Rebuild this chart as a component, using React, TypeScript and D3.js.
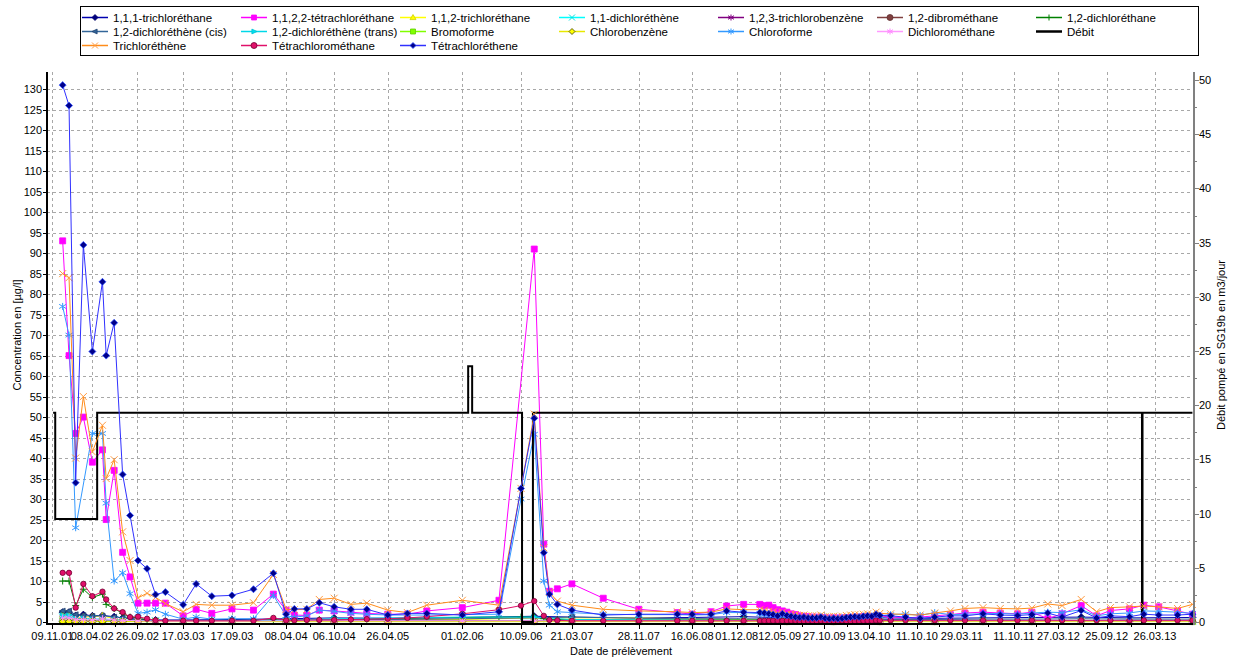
import React, { useEffect, useRef } from 'react';
import * as d3 from 'd3';

// dates de prélèvement (série complète)
const sampleDates = [
  '2001-12-18', '2002-01-11', '2002-02-05', '2002-03-06', '2002-04-09', '2002-05-17', '2002-05-31',
  '2002-06-30', '2002-08-01', '2002-08-29', '2002-09-28', '2002-11-01', '2002-12-03', '2003-01-09',
  '2003-03-17', '2003-05-05', '2003-07-03', '2003-09-17', '2003-12-07', '2004-02-20', '2004-04-08',
  '2004-05-09', '2004-06-25', '2004-08-11', '2004-10-06', '2004-12-08', '2005-02-06', '2005-04-26',
  '2005-07-09', '2005-09-20', '2006-02-01', '2006-06-19', '2006-09-10', '2006-10-30', '2006-12-05',
  '2006-12-26', '2007-01-25', '2007-03-21', '2007-07-17', '2007-11-28', '2008-04-21', '2008-06-16',
  '2008-08-26', '2008-10-24', '2008-12-27', '2009-02-26', '2009-03-15', '2009-04-01', '2009-04-17',
  '2009-05-04', '2009-05-22', '2009-06-08', '2009-06-24', '2009-07-10', '2009-07-26', '2009-08-11',
  '2009-08-27', '2009-09-12', '2009-09-28', '2009-10-14', '2009-10-30', '2009-11-15', '2009-12-01',
  '2009-12-17', '2010-01-02', '2010-01-18', '2010-02-03', '2010-02-19', '2010-03-07', '2010-03-23',
  '2010-04-08', '2010-04-24', '2010-05-10', '2010-05-24', '2010-07-04', '2010-08-29', '2010-10-23',
  '2010-12-17', '2011-02-14', '2011-04-10', '2011-06-17', '2011-08-21', '2011-10-25', '2011-12-18',
  '2012-02-16', '2012-04-10', '2012-06-21', '2012-08-18', '2012-10-09', '2012-12-20', '2013-02-12',
  '2013-04-09', '2013-06-19', '2013-08-14',
];

// dates des composés mineurs
const sparseDates = [
  '2001-12-18', '2002-01-11', '2002-02-05', '2002-03-06', '2002-04-09', '2002-05-17', '2002-06-30',
  '2002-08-01', '2002-09-28', '2002-12-03', '2003-03-17', '2003-09-17', '2004-04-08', '2004-10-06',
  '2005-04-26', '2006-02-01', '2006-10-30', '2007-03-21', '2007-11-28', '2008-06-16', '2008-12-27',
  '2009-06-08', '2009-12-01', '2010-05-24', '2010-12-17', '2011-06-17', '2011-12-18', '2012-06-21',
  '2012-12-20', '2013-08-14',
];

const tetrachloroethene = [
  131, 126, 34, 92, 66, 83, 65, 73, 36, 26, 15, 13, 6.7, 7.3,
  4.2, 9.3, 6.3, 6.5, 8, 11.9, 1.9, 3.2, 3.2, 4.7, 3.7, 3.1, 3.1, 1.7, 2.1, 2.1, 1.7, 2.5,
  32.6, 49.7, 16.9, 6.8, 4.3, 2.9, 1.7, 1.9, 1.9, 1.9, 1.9, 2.7, 2.4, 2.3, 2.2, 2.0, 1.8, 1.5,
  2.0, 1.6, 1.4, 1.2, 1.1, 1.2, 1.0, 1.0, 1.0, 1.2, 0.9, 0.8, 0.9, 0.8, 0.9, 1.1, 1.2, 1.3,
  1.2, 1.4, 1.5, 1.4, 1.9, 1.6, 1.5, 1.2, 0.9, 1.2, 1.5, 1.5, 2.0, 1.7, 1.6, 1.8, 2.2, 1.2,
  2.8, 1.0, 1.5, 1.3, 1.9, 1.7, 1.7, 1.9,
];
const tetrachloroethane1122 = [
  93, 65, 46, 50, 39, 42, 25, 37, 17, 11, 4.6, 4.6, 4.6, 4.6,
  1.5, 3.1, 2.1, 3.2, 2.9, 6.8, 2.9, 1.7, 1.6, 2.9, 2.7, 2.4, 2.1, 1.9, 1.9, 2.7, 3.5, 5.3,
  null, 91, 19, 7.5, 8.1, 9.3, 5.8, 3.1, 2.3, 1.9, 2.5, 3.9, 4.3, 4.3, 4.0, 4.1, 3.5, 3.0,
  2.7, 2.4, 2.0, 1.8, 1.5, 1.4, 1.3, 1.2, 1.2, 1.1, 1.0, 1.0, 1.0, 1.0, 1.0, 1.1, 1.1, 1.2,
  1.2, 1.3, 1.3, 1.3, 1.5, 1.4, 1.3, 1.0, 1.2, 1.5, 1.8, 2.2, 2.4, 2.2, 2.0, 2.4, 0.8, 2.0,
  4.0, 1.5, 2.8, 3.2, 4.1, 3.7, 2.7, 1.9,
];
const trichloroethene = [
  85, 84, 40, 55, 41.5, 48, 35, 39.6, 22, 15, 5.9, 7, 6, 4.5,
  2.5, 4.3, 4.1, 4.1, 4.7, 11.6, 3.1, 3.0, 3.1, 5.5, 5.8, 4.3, 4.6, 2.9, 2.3, 4.1, 5.3, 4.1,
  32.6, 50.7, 18.1, 7.2, 5.1, 4.1, 3.1, 2.7, 2.5, 2.3, 2.4, 3.2, 3.0, 3.0, 2.8, 2.6, 2.5, 2.2,
  2.4, 2.0, 1.9, 1.8, 1.6, 1.7, 1.5, 1.5, 1.5, 1.7, 1.3, 1.3, 1.4, 1.3, 1.4, 1.6, 1.7, 1.8,
  1.7, 1.9, 2.0, 1.9, 2.4, 2.1, 2.0, 1.8, 1.7, 2.2, 2.7, 3.3, 3.5, 3.3, 3.2, 3.4, 4.4, 4.0,
  5.5, 2.5, 3.5, 3.7, 3.9, 3.7, 3.3, 4.3,
];
const chloroforme = [
  77, 70, 23, null, 46, 46, 29, 10, 12, 6.9, 2.1, 2.4, 3.0, 1.9,
  0.7, 1.2, 0.7, 0.8, 0.8, 6.5, 1.5, 1.2, 1.5, 2.9, 2.6, 2.1, 1.9, 1.7, 1.7, 1.7, 1.8, 1.9,
  30, 45.8, 10, 4.1, 2.5, 2.3, 1.9, 1.8, 1.8, 1.7, 1.8, 2.3, 2.3, 2.0, 1.9, 1.8, 1.6, 1.5,
  1.7, 1.5, 1.3, 1.2, 1.1, 1.1, 1.0, 1.0, 1.0, 1.1, 0.9, 0.9, 0.9, 0.9, 1.0, 1.0, 1.1, 1.2,
  1.1, 1.2, 1.3, 1.3, 1.6, 1.5, 1.8, 2.0, 1.6, 2.3, 1.8, 1.9, 2.0, 2.1, 1.9, 2.2, 2.4, 2.3,
  3.0, 1.5, 2.0, 2.2, 2.7, 2.6, 2.4, 2.1,
];
const tetrachloromethane = [
  12, 12, 3.5, 9.3, 6.3, 7.4, 5.5, 3.3, 2.4, 1.2, 1.3, 0.8, 0.4, 0.3,
  0.3, 0.3, 0.3, 0.3, 0.3, 1.0, 0.4, 0.4, 0.5, 0.5, 0.5, 0.6, 0.7, 0.8, 1.0, 1.3, 2.0, 3.0,
  4.0, 5.1, 1.5, 0.5, 0.4, 0.3, 0.3, 0.3, 0.3, 0.3, 0.3, 0.3, 0.3, 0.3, 0.3, 0.3, 0.3, 0.3,
  0.3, 0.3, 0.3, 0.3, 0.2, 0.2, 0.2, 0.2, 0.2, 0.3, 0.1, 0.1, 0.2, 0.2, 0.3, 0.2, 0.2, 0.2,
  0.2, 0.3, 0.3, 0.3, 0.4, 0.4, 0.4, 0.4, 0.4, 0.4, 0.4, 0.4, 0.4, 0.4, 0.4, 0.4, 0.4, 0.4,
  0.4, 0.4, 0.4, 0.4, 0.4, 0.4, 0.4, 0.4,
];
const dichloroethane12 = [
  10, 10, 4, 8, 6, 6.8, 4.3, 3.3, 2.1, 1.2, 1.0, 0.5, 0.3, 0.3,
  0.3, 0.3, 0.4, 0.4, 0.4, 0.5, 0.5, 0.5, 0.5, 0.6, 0.6, 0.6, 0.7, 0.8, 0.9, 1.0, 1.1, 1.2,
  1.2, 1.2, 0.8, 0.6, 0.6, 0.5, 0.5, 0.5, 0.5, 0.5, 0.5, 0.5, 0.5, 0.5, 0.5, 0.5, 0.4, 0.4,
  0.4, 0.4, 0.4, 0.4, 0.3, 0.3, 0.3, 0.3, 0.3, 0.3, 0.3, 0.3, 0.3, 0.3, 0.3, 0.3, 0.3, 0.3,
  0.3, 0.3, 0.3, 0.3, 0.3, 0.3, 0.3, 0.3, 0.3, 0.3, 0.3, 0.3, 0.3, 0.3, 0.3, 0.3, 0.3, 0.3,
  0.3, 0.3, 0.3, 0.3, 0.3, 0.3, 0.3, 0.3,
];

const trichloroethane111 = [2.4, 2.4, 1.6, 1.8, 1.5, 1.6, 1.3, 1.0, 0.7, 0.5, 0.5, 0.6, 0.8, 1.0, 0.9, 1.1, 1.4, 1.2, 1.0, 1.1, 1.3, 1.0, 0.8, 1.0, 0.9, 1.0, 1.1, 1.2, 1.0, 1.1];
const trichloroethane112 = [1.8, 1.8, 1.0, 1.3, 1.2, 1.5, 0.8, 0.4, 0.2, 0.2, 0.2, 0.2, 0.3, 0.4, 0.5, 0.6, 1.0, 1.0, 1.0, 0.8, 0.6, 0.5, 0.4, 0.4, 0.4, 0.3, 0.3, 0.3, 0.3, 0.3];
const dichloroethene11 = [1.2, 1.2, 0.7, 0.8, 0.8, 0.7, 0.6, 0.4, 0.3, 0.3, 0.2, 0.2, 0.3, 0.3, 0.3, 0.3, 0.4, 0.3, 0.3, 0.3, 0.3, 0.3, 0.3, 0.3, 0.3, 0.3, 0.3, 0.3, 0.3, 0.3];
const trichlorobenzene123 = [0.2, 0.2, 0.2, 0.2, 0.2, 0.2, 0.2, 0.2, 0.2, 0.2, 0.2, 0.2, 0.3, 0.3, 0.3, 0.3, 0.3, 0.2, 0.2, 0.2, 0.2, 0.2, 0.2, 0.2, 0.2, 0.2, 0.2, 0.2, 0.2, 0.2];
const dibromethane12 = [0.2, 0.2, 0.2, 0.2, 0.2, 0.2, 0.2, 0.2, 0.2, 0.2, 0.2, 0.3, 0.4, 0.5, 0.5, 0.4, 0.3, 0.2, 0.2, 0.2, 0.2, 0.2, 0.2, 0.2, 0.2, 0.2, 0.2, 0.2, 0.2, 0.2];
const dichloroetheneCis = [2.7, 2.7, 1.8, 1.6, 1.4, 1.5, 1.2, 1.0, 0.4, 0.3, 0.3, 0.3, 0.5, 0.6, 0.6, 0.8, 1.0, 1.2, 0.9, 0.8, 0.8, 0.7, 0.6, 0.6, 0.6, 0.7, 0.7, 0.8, 0.7, 0.7];
const dichloroetheneTrans = [1.6, 1.6, 0.8, 0.8, 0.6, 0.6, 0.5, 0.4, 0.3, 0.2, 0.2, 0.2, 0.4, 0.8, 1.0, 1.2, 1.2, 0.6, 0.5, 0.4, 0.4, 0.3, 0.3, 0.3, 0.3, 0.3, 0.3, 0.3, 0.3, 0.3];
const bromoforme = [0.1, 0.1, 0.1, 0.1, 0.1, 0.1, 0.1, 0.1, 0.1, 0.1, 0.1, 0.1, 0.1, 0.1, 0.1, 0.1, 0.1, 0.1, 0.1, 0.1, 0.1, 0.1, 0.1, 0.1, 0.1, 0.1, 0.1, 0.1, 0.1, 0.1];
const chlorobenzene = [0.1, 0.1, 0.1, 0.1, 0.1, 0.1, 0.1, 0.1, 0.1, 0.1, 0.1, 0.1, 0.1, 0.1, 0.1, 0.1, 0.1, 0.1, 0.1, 0.1, 0.1, 0.1, 0.1, 0.1, 0.1, 0.1, 0.1, 0.1, 0.1, 0.1];
const dichloromethane = [1.0, 1.0, 0.6, 0.6, 0.5, 0.8, 0.5, 0.4, 0.3, 0.2, 0.2, 0.2, 0.3, 0.3, 0.3, 0.3, 0.3, 0.3, 0.3, 0.3, 0.3, 0.3, 0.3, 0.3, 0.3, 0.3, 0.3, 0.3, 0.3, 0.3];

// débit pompé (m3/jour), en escalier
const debitDates = ['2001-11-12', '2001-11-20', '2002-04-27', '2006-02-23', '2006-03-10', '2006-09-14', '2006-10-25', '2013-02-05', '2013-02-07', '2013-08-14'];
const debitValues = [19.3, 9.5, 19.3, 23.6, 19.3, 0, 19.3, 0, 19.3, 19.3];

const xTickDates = [
  '2001-11-09', '2002-04-08', '2002-09-26', '2003-03-17', '2003-09-17', '2004-04-08', '2004-10-06',
  '2005-04-26', '2006-02-01', '2006-09-10', '2007-03-21', '2007-11-28', '2008-06-16', '2008-12-01',
  '2009-05-12', '2009-10-27', '2010-04-13', '2010-10-11', '2011-03-29', '2011-10-11', '2012-03-27',
  '2012-09-25', '2013-03-26',
];

const FONT = '"Liberation Sans", Arial, sans-serif';
const parse = d3.timeParse('%Y-%m-%d');

type Marker = 'diamond' | 'square' | 'triangle' | 'x' | 'circle' | 'plus' | 'triLeft' | 'triRight' | 'asterisk';

interface Series {
  name: string;
  dates: string[];
  values: (number | null)[] | null;
  line: string;
  fill: string;
  stroke: string;
  marker: Marker | null;
}

const series: Series[] = [
  { name: '1,1,1-trichloréthane', dates: sparseDates, values: trichloroethane111, line: '#0000b0', fill: '#000080', stroke: '#000060', marker: 'diamond' },
  { name: '1,1,2,2-tétrachloréthane', dates: sampleDates, values: tetrachloroethane1122, line: '#ff00ff', fill: '#ff00ff', stroke: '#ff00ff', marker: 'square' },
  { name: '1,1,2-trichloréthane', dates: sparseDates, values: trichloroethane112, line: '#ffff00', fill: '#ffff00', stroke: '#d0d000', marker: 'triangle' },
  { name: '1,1-dichloréthène', dates: sparseDates, values: dichloroethene11, line: '#00ffff', fill: 'none', stroke: '#00e0e0', marker: 'x' },
  { name: '1,2,3-trichlorobenzène', dates: sparseDates, values: trichlorobenzene123, line: '#800080', fill: 'none', stroke: '#800080', marker: 'asterisk' },
  { name: '1,2-dibrométhane', dates: sparseDates, values: dibromethane12, line: '#804040', fill: '#804040', stroke: '#603030', marker: 'circle' },
  { name: '1,2-dichloréthane', dates: sampleDates, values: dichloroethane12, line: '#008000', fill: 'none', stroke: '#008000', marker: 'plus' },
  { name: '1,2-dichloréthène (cis)', dates: sparseDates, values: dichloroetheneCis, line: '#336699', fill: '#336699', stroke: '#204070', marker: 'triLeft' },
  { name: '1,2-dichloréthène (trans)', dates: sparseDates, values: dichloroetheneTrans, line: '#00d8e8', fill: '#00e0f0', stroke: '#00c0d0', marker: 'triRight' },
  { name: 'Bromoforme', dates: sparseDates, values: bromoforme, line: '#80ff00', fill: '#80ff00', stroke: '#60d000', marker: 'square' },
  { name: 'Chlorobenzène', dates: sparseDates, values: chlorobenzene, line: '#e8e800', fill: '#ffff00', stroke: '#404000', marker: 'diamond' },
  { name: 'Chloroforme', dates: sampleDates, values: chloroforme, line: '#3399ff', fill: 'none', stroke: '#3399ff', marker: 'asterisk' },
  { name: 'Dichlorométhane', dates: sparseDates, values: dichloromethane, line: '#ff99ff', fill: 'none', stroke: '#ff88ff', marker: 'asterisk' },
  { name: 'Débit', dates: debitDates, values: null, line: '#000000', fill: 'none', stroke: '#000', marker: null },
  { name: 'Trichloréthène', dates: sampleDates, values: trichloroethene, line: '#ff8c1a', fill: 'none', stroke: '#ff9a40', marker: 'x' },
  { name: 'Tétrachlorométhane', dates: sampleDates, values: tetrachloromethane, line: '#e0106a', fill: '#e0106a', stroke: '#700030', marker: 'circle' },
  { name: 'Tétrachloréthene', dates: sampleDates, values: tetrachloroethene, line: '#3030ff', fill: '#00008b', stroke: '#3050ff', marker: 'diamond' },
];

const markerPath = (m: Marker, s: number) => {
  switch (m) {
    case 'diamond': return `M0,${-s}L${s},0L0,${s}L${-s},0Z`;
    case 'square': return `M${-s + 0.5},${-s + 0.5}H${s - 0.5}V${s - 0.5}H${-s + 0.5}Z`;
    case 'triangle': return `M0,${-s}L${s},${s * 0.7}L${-s},${s * 0.7}Z`;
    case 'triLeft': return `M${-s},0L${s * 0.7},${-s * 0.8}L${s * 0.7},${s * 0.8}Z`;
    case 'triRight': return `M${s},0L${-s * 0.7},${-s * 0.8}L${-s * 0.7},${s * 0.8}Z`;
    case 'circle': return `M${s},0A${s},${s} 0 1,1 ${-s},0A${s},${s} 0 1,1 ${s},0Z`;
    case 'plus': return `M${-s},0H${s}M0,${-s}V${s}`;
    case 'x': return `M${-s},${-s}L${s},${s}M${-s},${s}L${s},${-s}`;
    case 'asterisk': return `M0,${-s}V${s}M${-s},${-s * 0.6}L${s},${s * 0.6}M${-s},${s * 0.6}L${s},${-s * 0.6}`;
  }
};

const isOpen = (m: Marker) => m === 'plus' || m === 'x' || m === 'asterisk';

export default function App() {
  const ref = useRef<SVGSVGElement>(null);

  useEffect(() => {
    const svg = d3.select(ref.current);
    svg.selectAll('*').remove();

    const left = 47, right = 1194, top = 72, bottom = 624;
    const x = d3.scaleTime()
      .domain([parse('2001-10-20') as Date, parse('2013-08-20') as Date])
      .range([left, right]);
    const yL = d3.scaleLinear().domain([0, 134.2]).range([622, top]);
    const yR = d3.scaleLinear().domain([0, 50]).range([622, 80]);

    svg.append('rect').attr('width', 1240).attr('height', 657).attr('fill', '#fff');

    // grille
    const grid = svg.append('g').attr('stroke', '#a8a8a8').attr('stroke-dasharray', '3,3').attr('stroke-width', 1);
    d3.range(5, 131, 5).forEach(v => {
      grid.append('line').attr('x1', left).attr('x2', right).attr('y1', Math.round(yL(v)) + 0.5).attr('y2', Math.round(yL(v)) + 0.5);
    });
    xTickDates.forEach(d => {
      const xx = Math.round(x(parse(d) as Date)) + 0.5;
      grid.append('line').attr('x1', xx).attr('x2', xx).attr('y1', top).attr('y2', bottom);
    });

    const plot = svg.append('g');
    const lineGen = d3.line<[Date, number]>().x(d => x(d[0])).y(d => yL(d[1]));

    series.forEach(s => {
      if (s.values === null) {
        // débit, axe de droite
        const pts = debitDates.map((d, i) => [parse(d) as Date, debitValues[i]] as [Date, number]);
        plot.append('path')
          .attr('d', d3.line<[Date, number]>().x(d => x(d[0])).y(d => yR(d[1])).curve(d3.curveStepAfter)(pts))
          .attr('fill', 'none').attr('stroke', '#000').attr('stroke-width', 2);
        return;
      }
      const pts = s.dates
        .map((d, i) => [parse(d) as Date, s.values![i]] as [Date, number | null])
        .filter(p => p[1] !== null) as [Date, number][];
      plot.append('path')
        .attr('d', lineGen(pts))
        .attr('fill', 'none').attr('stroke', s.line).attr('stroke-width', 1);
      const m = s.marker as Marker;
      const size = m === 'circle' ? 2.7 : 3.5;
      plot.append('g').selectAll('path').data(pts).enter().append('path')
        .attr('transform', d => `translate(${x(d[0])},${yL(d[1])})`)
        .attr('d', markerPath(m, size))
        .attr('fill', isOpen(m) ? 'none' : s.fill)
        .attr('stroke', s.stroke)
        .attr('stroke-width', isOpen(m) ? 1 : 0.8);
    });

    // axes
    const axes = svg.append('g').attr('font-family', FONT).attr('font-size', 11).attr('fill', '#000');
    axes.append('line').attr('x1', left).attr('x2', left).attr('y1', top).attr('y2', bottom + 1).attr('stroke', '#000').attr('stroke-width', 2);
    axes.append('line').attr('x1', left - 1).attr('x2', right).attr('y1', bottom).attr('y2', bottom).attr('stroke', '#000').attr('stroke-width', 2);
    axes.append('line').attr('x1', right).attr('x2', right).attr('y1', top).attr('y2', bottom + 1).attr('stroke', '#808080').attr('stroke-width', 2);

    d3.range(0, 131, 5).forEach(v => {
      const yy = Math.round(yL(v)) + 0.5;
      axes.append('line').attr('x1', left - 4).attr('x2', left).attr('y1', yy).attr('y2', yy).attr('stroke', '#000');
      axes.append('text').attr('x', left - 5).attr('y', yy).attr('dy', '0.35em').attr('text-anchor', 'end').text(v);
    });

    d3.range(0, 50.1, 2.5).forEach(v => {
      const yy = Math.round(yR(v)) + 0.5;
      const major = v % 5 === 0;
      axes.append('line').attr('x1', right).attr('x2', right + (major ? 5 : 3)).attr('y1', yy).attr('y2', yy).attr('stroke', '#808080');
      if (major) axes.append('text').attr('x', right + 5).attr('y', yy).attr('dy', '0.35em').text(v);
    });

    const tickX = xTickDates.map(d => x(parse(d) as Date));
    tickX.forEach((xx, i) => {
      const px = Math.round(xx) + 0.5;
      axes.append('line').attr('x1', px).attr('x2', px).attr('y1', bottom).attr('y2', bottom + 5).attr('stroke', '#000');
      axes.append('text').attr('x', xx).attr('y', bottom + 16).attr('text-anchor', 'middle').text(xTickDates[i].slice(8, 10) + '.' + xTickDates[i].slice(5, 7) + '.' + xTickDates[i].slice(2, 4));
      if (i < tickX.length - 1) {
        const mx = Math.round((xx + tickX[i + 1]) / 2) + 0.5;
        axes.append('line').attr('x1', mx).attr('x2', mx).attr('y1', bottom).attr('y2', bottom + 3).attr('stroke', '#000');
      }
    });

    axes.append('text').attr('transform', 'translate(21,335) rotate(-90)').attr('text-anchor', 'middle').text('Concentration en [µg/l]');
    axes.append('text').attr('transform', 'translate(1225,345) rotate(-90)').attr('text-anchor', 'middle').text('Débit pompé en SG19b en m3/jour');
    axes.append('text').attr('x', 621).attr('y', 655).attr('text-anchor', 'middle').text('Date de prélèvement');

    // légende
    const leg = svg.append('g').attr('font-family', FONT).attr('font-size', 11.5);
    leg.append('rect').attr('x', 80.5).attr('y', 6.5).attr('width', 1118).attr('height', 49).attr('fill', '#fff').attr('stroke', '#000');
    series.forEach((s, i) => {
      const col = i % 7, row = Math.floor(i / 7);
      const lx = 82 + col * 159, ly = 17.5 + row * 14;
      leg.append('line').attr('x1', lx).attr('x2', lx + 26).attr('y1', ly).attr('y2', ly)
        .attr('stroke', s.line).attr('stroke-width', s.marker ? 1.5 : 2.5);
      if (s.marker) {
        leg.append('path').attr('transform', `translate(${lx + 13},${ly})`)
          .attr('d', markerPath(s.marker, 3))
          .attr('fill', isOpen(s.marker) ? 'none' : s.fill)
          .attr('stroke', s.stroke).attr('stroke-width', isOpen(s.marker) ? 1 : 0.8);
      }
      leg.append('text').attr('x', lx + 31).attr('y', ly).attr('dy', '0.35em').text(s.name);
    });
  }, []);

  return <svg ref={ref} width={1240} height={657} style={{ position: 'absolute', left: 0, top: 0 }} />;
}
